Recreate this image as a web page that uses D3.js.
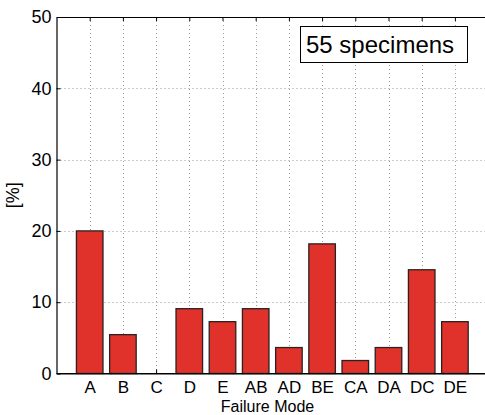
<!DOCTYPE html>
<html>
<head>
<meta charset="utf-8">
<script src="https://cdn.jsdelivr.net/npm/d3@7"></script>
<style>
	body { margin: 0; background: #fff; }
	text { font-family: "Liberation Sans", Arial, Helvetica, sans-serif; fill: #000; }
</style>
</head>
<body>
<div class="chart"></div>
<script>
// failure modes and their share of the 55 specimens
const categories = ['A', 'B', 'C', 'D', 'E', 'AB', 'AD', 'BE', 'CA', 'DA', 'DC', 'DE'];
const percents = [20, 5.45, 0, 9.09, 7.27, 9.09, 3.64, 18.18, 1.82, 3.64, 14.55, 7.27];
const yTicks = [0, 10, 20, 30, 40, 50];

let w = 485;
let h = 415;
let plotLeft = 56.5;
let plotTop = 17;
let plotBottom = 373.5;
let unit = 33.2;

let svg = d3.select('.chart').append('svg').attr('width', w).attr('height', h);

let xScale = d3.scaleLinear().domain([ 0, 13 ]).range([ plotLeft, plotLeft + 13 * unit ]);
let yScale = d3.scaleLinear().domain([ 0, 50 ]).range([ plotBottom, plotTop ]);
let plotRight = xScale(13);

// grid
svg
	.append('g')
	.selectAll('line')
	.data(categories)
	.enter()
	.append('line')
	.attr('x1', (d, i) => Math.round(xScale(i + 1)) + 0.5)
	.attr('x2', (d, i) => Math.round(xScale(i + 1)) + 0.5)
	.attr('y1', plotTop)
	.attr('y2', plotBottom)
	.attr('stroke', '#9a9a9a')
	.attr('stroke-dasharray', '1,3');

svg
	.append('g')
	.selectAll('line')
	.data(yTicks.slice(1, -1))
	.enter()
	.append('line')
	.attr('x1', plotLeft)
	.attr('x2', plotRight)
	.attr('y1', (d) => Math.round(yScale(d)) + 0.5)
	.attr('y2', (d) => Math.round(yScale(d)) + 0.5)
	.attr('stroke', '#9a9a9a')
	.attr('stroke-dasharray', '1,3');

// axes, ticks inside like matlab
let xAxis = d3.axisBottom(xScale)
	.tickValues(d3.range(1, 13))
	.tickFormat((d) => categories[d - 1])
	.tickSizeInner(-4)
	.tickSizeOuter(0)
	.tickPadding(7.5);

let gx = svg
	.append('g')
	.attr('transform', 'translate(0,' + plotBottom + ')')
	.call(xAxis);
gx.selectAll('text').attr('font-size', '17px').attr('font-family', null);

svg
	.append('g')
	.attr('transform', 'translate(0,' + plotTop + ')')
	.call(d3.axisTop(xScale).tickValues(d3.range(1, 13)).tickFormat('').tickSizeInner(-4).tickSizeOuter(0));

let gy = svg
	.append('g')
	.attr('transform', 'translate(' + plotLeft + ',0)')
	.call(d3.axisLeft(yScale).tickValues(yTicks).tickSizeInner(-4).tickSizeOuter(0).tickPadding(5));
gy.selectAll('text').attr('font-size', '18px').attr('font-family', null);

svg.selectAll('.domain').attr('stroke', '#000').attr('stroke-width', 1.2);
svg.selectAll('.tick line').attr('stroke', '#000');

// Bars
svg
	.append('g')
	.selectAll('rect')
	.data(percents)
	.enter()
	.append('rect')
	.attr('x', (d, i) => xScale(i + 1 - 0.4))
	.attr('y', (d) => yScale(d))
	.attr('width', xScale(0.8) - xScale(0))
	.attr('height', (d) => plotBottom - yScale(d))
	.attr('fill', '#e0312a')
	.attr('stroke', '#2a2222')
	.attr('stroke-width', 1.3);

// redraw bottom axis line over bars
svg
	.append('line')
	.attr('x1', plotLeft)
	.attr('x2', plotRight)
	.attr('y1', plotBottom)
	.attr('y2', plotBottom)
	.attr('stroke', '#000')
	.attr('stroke-width', 1.2);

// labels
svg
	.append('text')
	.attr('x', 267.5)
	.attr('y', 411.5)
	.attr('text-anchor', 'middle')
	.attr('font-size', '16px')
	.text('Failure Mode');

svg
	.append('text')
	.attr('transform', 'translate(19,' + (plotTop + plotBottom) / 2 + ') rotate(-90)')
	.attr('text-anchor', 'middle')
	.attr('font-size', '18px')
	.text('[%]');

// specimens box
svg
	.append('rect')
	.attr('x', 300.5)
	.attr('y', 26.5)
	.attr('width', 167)
	.attr('height', 36)
	.attr('fill', '#fff')
	.attr('stroke', '#000');

svg
	.append('text')
	.attr('x', 306)
	.attr('y', 53)
	.attr('font-size', '24px')
	.text('55 specimens');
</script>
</body>
</html>
